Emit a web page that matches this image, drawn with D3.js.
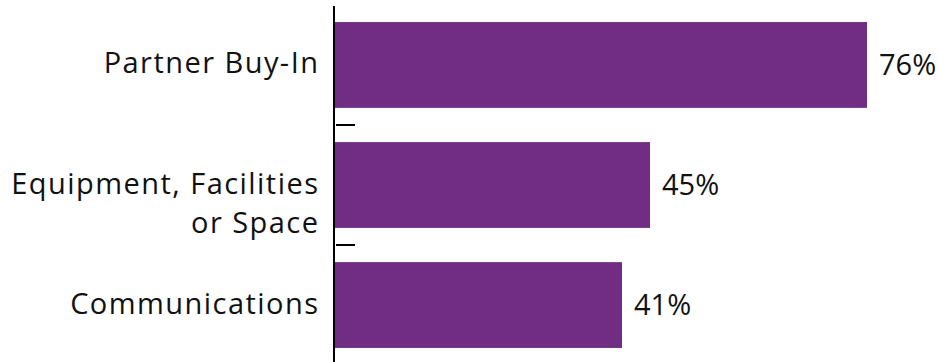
<!DOCTYPE html>
<html>
<head>
<meta charset="utf-8">
<script src="https://cdn.jsdelivr.net/npm/d3@7"></script>
<style>
  html, body { margin: 0; padding: 0; background: #fff; }
  svg { display: block; }
  text { font-family: "Open Sans", sans-serif; fill: #111; font-variant-ligatures: none; }
</style>
</head>
<body>
<svg id="chart" width="939" height="362"></svg>
<script>
// Share of respondents citing each area
const categories = ["Partner Buy-In", "Equipment, Facilities or Space", "Communications"];
const labelLines = [["Partner Buy-In"], ["Equipment, Facilities", "or Space"], ["Communications"]];
const values = [76, 45, 41];

const width = 939, height = 362;
const margin = { top: 5, bottom: -3, left: 334 };

const svg = d3.select("#chart");
const g = svg.append("g");

const y = d3.scaleBand()
  .domain(categories)
  .range([margin.top, height - margin.bottom])
  .paddingInner(0.285)
  .paddingOuter(0.142);

const x = d3.scaleLinear()
  .domain([0, 100])
  .range([margin.left + 1, margin.left + 1 + 700]);

// bars
g.selectAll("rect.bar")
  .data(values)
  .join("rect")
  .attr("class", "bar")
  .attr("x", x(0))
  .attr("y", (d, i) => y(categories[i]))
  .attr("width", d => x(d) - x(0))
  .attr("height", y.bandwidth())
  .attr("fill", "#712C84");

// value labels
g.selectAll("text.value")
  .data(values)
  .join("text")
  .attr("class", "value")
  .attr("x", d => x(d) + 12)
  .attr("y", (d, i) => y(categories[i]) + y.bandwidth() / 2 + 10)
  .attr("font-size", 29)
  .text(d => d + "%");

// category labels: first line sits on the bar centre, extra lines run below
const labelSize = 29, tracking = 1.45, lineHeight = 39.5;
categories.forEach((c, i) => {
  const lines = labelLines[i];
  const cy = y(c) + y.bandwidth() / 2;
  lines.forEach((ln, j) => {
    g.append("text")
      .attr("text-anchor", "end")
      .attr("font-size", labelSize)
      .attr("letter-spacing", tracking)
      .attr("x", 318 + tracking)
      .attr("y", cy + 8.5 + j * lineHeight)
      .text(ln);
  });
});

// axis line
g.append("line")
  .attr("x1", margin.left).attr("x2", margin.left)
  .attr("y1", 6).attr("y2", height)
  .attr("stroke", "#000").attr("stroke-width", 2);

// tick marks between categories
const step = y.step();
const boundaries = categories.slice(1).map(c => y(c) - (step - y.bandwidth()) / 2);
g.selectAll("line.tick")
  .data(boundaries)
  .join("line")
  .attr("class", "tick")
  .attr("x1", margin.left + 2).attr("x2", margin.left + 21)
  .attr("y1", d => d).attr("y2", d => d)
  .attr("stroke", "#000").attr("stroke-width", 2);
</script>
</body>
</html>
